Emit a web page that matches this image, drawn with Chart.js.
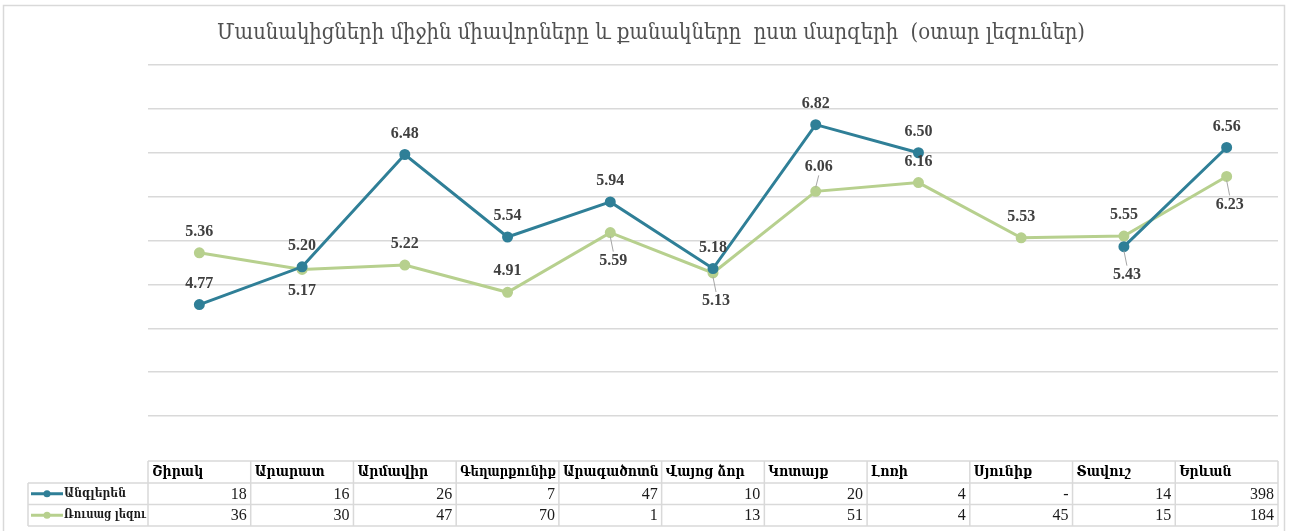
<!DOCTYPE html>
<html>
<head>
<meta charset="utf-8">
<script src="https://cdn.jsdelivr.net/npm/chart.js@4.4.1/dist/chart.umd.min.js"></script>
<style>
  html, body { margin: 0; padding: 0; background: #fff; }
  canvas { display: block; }
</style>
</head>
<body>
<canvas id="chart" width="1296" height="531"></canvas>
<script>
const title = "Մասնակիցների միջին միավորները և քանակները  ըստ մարզերի  (օտար լեզուներ)";
const regions = ["Շիրակ", "Արարատ", "Արմավիր", "Գեղարքունիք", "Արագածոտն", "Վայոց ձոր", "Կոտայք", "Լոռի", "Սյունիք", "Տավուշ", "Երևան"];
const seriesNames = ["Անգլերեն", "Ռուսաց լեզու"];
const englishScores = [4.77, 5.20, 6.48, 5.54, 5.94, 5.18, 6.82, 6.50, null, 5.43, 6.56];
const russianScores = [5.36, 5.17, 5.22, 4.91, 5.59, 5.13, 6.06, 6.16, 5.53, 5.55, 6.23];
const englishCounts = ["18", "16", "26", "7", "47", "10", "20", "4", "-", "14", "398"];
const russianCounts = ["36", "30", "47", "70", "1", "13", "51", "4", "45", "15", "184"];

// a = above, b = below, capital = farther away with a leader line
const englishLabelPos = ["a", "a", "a", "a", "a", "a", "a", "a", "a", "B", "a"];
const russianLabelPos = ["a", "b", "a", "a", "B", "B", "A", "a", "a", "a", "B"];

const tealColor = "#2F7F97";
const greenColor = "#B7D08E";
const armFont = "'DejaVu Serif Condensed', 'DejaVu Serif', serif";
const numFont = "'Liberation Serif', serif";

// draw text squeezed horizontally so it never gets wider than maxW
function fitText(ctx, text, x, y, maxW) {
  const w = ctx.measureText(text).width;
  const k = w > maxW ? maxW / w : 1;
  ctx.save();
  ctx.translate(x, y);
  ctx.scale(k, 1);
  ctx.fillText(text, 0, 0);
  ctx.restore();
}

const framePlugin = {
  id: "frame",
  beforeDraw(chart) {
    const ctx = chart.ctx;
    ctx.save();
    ctx.fillStyle = "#fff";
    ctx.fillRect(0, 0, chart.width, chart.height);
    ctx.strokeStyle = "#D9D9D9";
    ctx.lineWidth = 1.5;
    ctx.strokeRect(3.5, 5.5, 1281, 560);
    ctx.fillStyle = "#505050";
    ctx.font = "22px " + armFont;
    ctx.textAlign = "center";
    ctx.textBaseline = "middle";
    fitText(ctx, title, 651, 33, 868);
    ctx.restore();
  }
};

const labelPlugin = {
  id: "pointLabels",
  afterDatasetsDraw(chart) {
    const ctx = chart.ctx;
    ctx.save();
    ctx.font = "bold 16px " + numFont;
    ctx.textAlign = "center";
    ctx.textBaseline = "middle";
    chart.data.datasets.forEach((ds, di) => {
      const meta = chart.getDatasetMeta(di);
      meta.data.forEach((pt, i) => {
        const v = ds.data[i];
        if (v == null) return;
        const pos = ds.labelPos[i];
        let dy = -21;
        if (pos === "b") dy = 21;
        if (pos === "A") dy = -25;
        if (pos === "B") dy = 28;
        const lx = pt.x + (pos === "A" || pos === "B" ? 3 : 0);
        const ly = pt.y + dy;
        if (pos === "A" || pos === "B") {
          const s = dy > 0 ? 1 : -1;
          ctx.strokeStyle = "#A6A6A6";
          ctx.lineWidth = 1;
          ctx.beginPath();
          ctx.moveTo(pt.x, pt.y + s * 4);
          ctx.lineTo(lx, ly - s * 9);
          ctx.stroke();
        }
        ctx.fillStyle = "#404040";
        ctx.fillText(v.toFixed(2), lx, ly);
      });
    });
    ctx.restore();
  }
};

const tablePlugin = {
  id: "dataTable",
  afterDraw(chart) {
    const ctx = chart.ctx;
    const x = chart.scales.x;
    const colW = x.getPixelForValue(1) - x.getPixelForValue(0);
    const firstLeft = x.getPixelForValue(0) - colW / 2;
    const lastRight = x.getPixelForValue(regions.length - 1) + colW / 2;
    const legendLeft = 28;
    const rows = [461, 483, 504.5, 526];

    ctx.save();
    ctx.strokeStyle = "#D9D9D9";
    ctx.lineWidth = 1.5;
    ctx.beginPath();
    ctx.moveTo(firstLeft, rows[0]); ctx.lineTo(lastRight, rows[0]);
    for (let r = 1; r < rows.length; r++) {
      ctx.moveTo(legendLeft, rows[r]); ctx.lineTo(lastRight, rows[r]);
    }
    ctx.moveTo(legendLeft, rows[1]); ctx.lineTo(legendLeft, rows[3]);
    for (let i = 0; i <= regions.length; i++) {
      const cx = firstLeft + i * colW;
      ctx.moveTo(cx, rows[0]); ctx.lineTo(cx, rows[3]);
    }
    ctx.stroke();

    ctx.fillStyle = "#000";
    ctx.textBaseline = "middle";
    ctx.font = "bold 14px " + armFont;
    ctx.textAlign = "left";
    regions.forEach((name, i) => {
      fitText(ctx, name, firstLeft + i * colW + 4, (rows[0] + rows[1]) / 2, colW - 7);
    });

    ctx.fillStyle = "#1a1a1a";
    ctx.font = "16px " + numFont;
    ctx.textAlign = "right";
    [englishCounts, russianCounts].forEach((counts, r) => {
      const cy = (rows[r + 1] + rows[r + 2]) / 2 + 1;
      counts.forEach((c, i) => {
        ctx.fillText(c, firstLeft + (i + 1) * colW - 4, cy);
      });
    });

    // legend keys inside the table
    chart.data.datasets.forEach((ds, r) => {
      const cy = (rows[r + 1] + rows[r + 2]) / 2;
      ctx.strokeStyle = ds.borderColor;
      ctx.fillStyle = ds.borderColor;
      ctx.lineWidth = 3;
      ctx.beginPath();
      ctx.moveTo(31, cy); ctx.lineTo(63, cy);
      ctx.stroke();
      ctx.beginPath();
      ctx.arc(47, cy, 3.5, 0, Math.PI * 2);
      ctx.fill();
      ctx.fillStyle = "#1a1a1a";
      ctx.font = "bold 12px " + armFont;
      ctx.textAlign = "left";
      fitText(ctx, ds.label, 64, cy, 82);
    });
    ctx.restore();
  }
};

new Chart(document.getElementById("chart"), {
  type: "line",
  data: {
    labels: regions,
    datasets: [
      {
        label: seriesNames[0],
        data: englishScores,
        labelPos: englishLabelPos,
        borderColor: tealColor,
        backgroundColor: tealColor,
        borderWidth: 3,
        pointRadius: 4,
        pointHoverRadius: 4,
        spanGaps: false,
        tension: 0
      },
      {
        label: seriesNames[1],
        data: russianScores,
        labelPos: russianLabelPos,
        borderColor: greenColor,
        backgroundColor: greenColor,
        borderWidth: 3,
        pointRadius: 4,
        pointHoverRadius: 4,
        tension: 0
      }
    ]
  },
  options: {
    responsive: false,
    animation: false,
    devicePixelRatio: 1,
    layout: { padding: { left: 148, right: 18, top: 65, bottom: 115 } },
    plugins: {
      legend: { display: false },
      tooltip: { enabled: false },
      title: { display: false }
    },
    scales: {
      x: { display: false, offset: true },
      y: {
        min: 3.5,
        max: 7.5,
        ticks: { display: false, stepSize: 0.5 },
        grid: { color: "#D9D9D9", lineWidth: 1.5, drawTicks: false },
        border: { display: false }
      }
    }
  },
  plugins: [framePlugin, labelPlugin, tablePlugin]
});
</script>
</body>
</html>
